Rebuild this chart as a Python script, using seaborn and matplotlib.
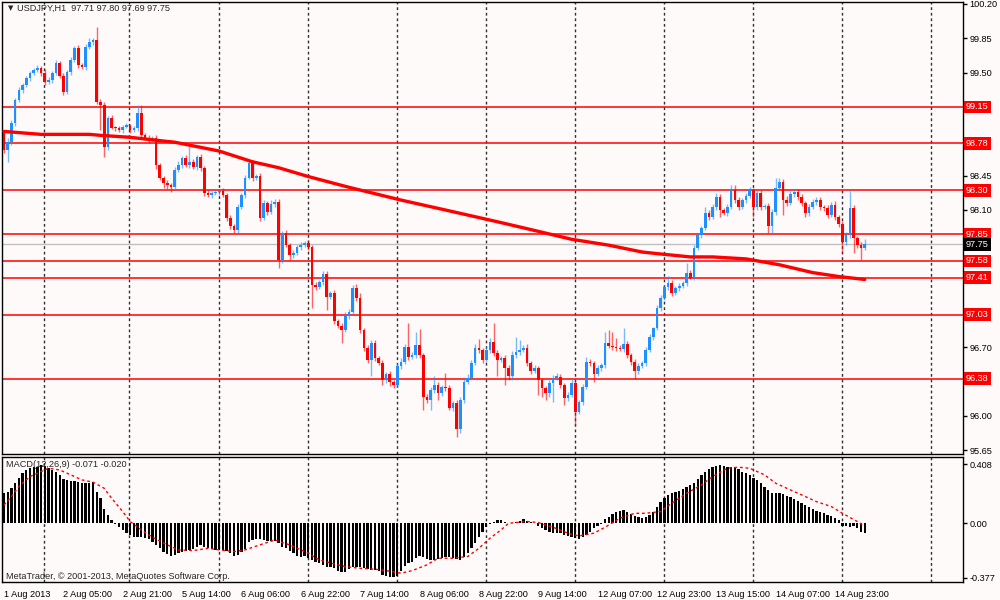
import matplotlib
matplotlib.use("Agg")
import matplotlib.pyplot as plt
import numpy as np
import seaborn as sns

# ---------------- DATA ----------------
title_text = "USDJPY,H1  97.71 97.80 97.69 97.75"
macd_text = "MACD(12,26,9) -0.071 -0.020"
copyright_text = "MetaTrader, \u00a9 2001-2013, MetaQuotes Software Corp."

first_open = 98.88
closes = [
    98.71, 98.79, 98.99, 99.22, 99.32, 99.37, 99.44, 99.50, 99.53, 99.55,
    99.50, 99.40, 99.42, 99.50, 99.60, 99.47, 99.30, 99.51, 99.63, 99.75,
    99.58, 99.56, 99.76, 99.81, 99.83, 99.20, 99.17, 98.74, 99.04, 98.94,
    98.93, 98.91, 98.95, 98.96, 98.91, 98.93, 99.09, 98.86, 98.83, 98.81,
    98.83, 98.56, 98.43, 98.37, 98.35, 98.33, 98.51, 98.56, 98.63, 98.56,
    98.59, 98.54, 98.64, 98.53, 98.27, 98.25, 98.27, 98.28, 98.29, 98.25,
    98.02, 97.94, 97.89, 98.13, 98.25, 98.43, 98.58, 98.42, 98.45, 98.02,
    98.17, 98.08, 98.16, 98.18, 97.59, 97.86, 97.74, 97.64, 97.66, 97.72,
    97.74, 97.76, 97.72, 97.33, 97.31, 97.36, 97.45, 97.21, 97.25, 96.97,
    96.92, 96.87, 97.02, 97.06, 97.30, 97.20, 96.87, 96.69, 96.57, 96.74,
    96.59, 96.54, 96.36, 96.43, 96.34, 96.31, 96.51, 96.55, 96.70, 96.60,
    96.62, 96.72, 96.62, 96.19, 96.16, 96.26, 96.31, 96.23, 96.29, 96.28,
    96.08, 96.13, 95.87, 96.16, 96.34, 96.39, 96.54, 96.69, 96.67, 96.57,
    96.67, 96.75, 96.64, 96.57, 96.59, 96.49, 96.41, 96.62, 96.65, 96.67,
    96.69, 96.54, 96.46, 96.49, 96.36, 96.28, 96.23, 96.33, 96.39, 96.40,
    96.31, 96.18, 96.21, 96.33, 96.04, 96.14, 96.29, 96.55, 96.54, 96.43,
    96.49, 96.52, 96.74, 96.71, 96.70, 96.69, 96.68, 96.73, 96.62, 96.55,
    96.46, 96.51, 96.54, 96.67, 96.80, 96.89, 97.10, 97.20, 97.31, 97.35,
    97.25, 97.30, 97.32, 97.35, 97.46, 97.41, 97.71, 97.84, 97.91, 98.07,
    98.03, 98.13, 98.23, 98.10, 98.07, 98.13, 98.30, 98.20, 98.13, 98.20,
    98.24, 98.30, 98.13, 98.27, 98.13, 98.14, 97.94, 98.08, 98.32, 98.38,
    98.20, 98.17, 98.26, 98.28, 98.23, 98.17, 98.07, 98.13, 98.18, 98.20,
    98.13, 98.12, 98.05, 98.15, 98.03, 97.96, 97.77, 97.84, 98.12, 97.81,
    97.74, 97.71, 97.75,
]
# upper / lower shadow lengths in pips (0.01)
wick_hi = [
    3, 4, 3, 2, 3, 2, 3, 2, 2, 3,
    2, 4, 3, 2, 3, 2, 3, 2, 3, 2,
    3, 2, 3, 4, 2, 13, 3, 3, 2, 3,
    2, 3, 2, 3, 2, 3, 8, 8, 2, 3,
    2, 3, 2, 2, 3, 2, 3, 4, 2, 3,
    19, 3, 2, 3, 2, 3, 2, 3, 2, 3,
    2, 3, 2, 3, 2, 3, 4, 3, 2, 3,
    3, 2, 4, 3, 3, 2, 3, 2, 3, 2,
    3, 2, 3, 2, 3, 2, 3, 3, 2, 3,
    2, 3, 4, 3, 3, 4, 5, 2, 3, 3,
    3, 2, 3, 2, 3, 2, 3, 4, 3, 25,
    3, 13, 16, 2, 3, 3, 10, 3, 2, 15,
    3, 2, 3, 3, 3, 4, 3, 4, 9, 2,
    3, 4, 20, 3, 2, 3, 3, 4, 15, 10,
    3, 4, 2, 3, 2, 3, 2, 3, 3, 4,
    3, 2, 3, 4, 3, 2, 3, 5, 3, 2,
    3, 2, 11, 13, 14, 9, 3, 17, 3, 2,
    3, 3, 2, 3, 3, 2, 3, 3, 2, 8,
    3, 2, 3, 2, 10, 3, 3, 2, 3, 6,
    3, 3, 4, 3, 2, 3, 5, 5, 3, 2,
    3, 3, 2, 4, 3, 2, 3, 3, 11, 5,
    3, 4, 3, 3, 3, 3, 2, 3, 3, 3,
    3, 2, 3, 3, 4, 2, 3, 3, 18, 3,
    2, 3, 5,
]
wick_lo = [
    3, 12, 3, 3, 2, 3, 2, 3, 2, 2,
    3, 3, 2, 3, 2, 3, 3, 2, 3, 2,
    3, 2, 3, 2, 3, 2, 26, 10, 3, 2,
    3, 2, 3, 2, 3, 2, 3, 3, 2, 3,
    2, 4, 3, 5, 4, 5, 3, 2, 3, 2,
    3, 2, 3, 3, 3, 2, 3, 2, 3, 2,
    3, 4, 3, 3, 2, 3, 2, 3, 2, 3,
    2, 3, 2, 3, 8, 3, 2, 5, 3, 2,
    3, 2, 3, 23, 3, 2, 3, 13, 2, 3,
    3, 13, 2, 3, 2, 3, 3, 3, 3, 16,
    3, 2, 5, 3, 4, 3, 2, 3, 2, 3,
    2, 3, 3, 13, 3, 10, 3, 7, 3, 3,
    2, 3, 9, 5, 3, 2, 3, 2, 3, 3,
    2, 3, 3, 16, 2, 18, 5, 5, 3, 3,
    2, 3, 3, 2, 15, 9, 7, 4, 19, 3,
    3, 7, 3, 2, 14, 2, 3, 2, 3, 9,
    2, 3, 3, 2, 3, 3, 2, 3, 3, 3,
    8, 3, 2, 3, 2, 3, 2, 3, 2, 3,
    3, 2, 3, 2, 3, 2, 3, 2, 3, 2,
    3, 2, 3, 7, 2, 3, 2, 3, 3, 2,
    3, 2, 10, 3, 3, 2, 8, 8, 3, 2,
    15, 3, 2, 3, 3, 3, 4, 3, 2, 3,
    3, 3, 3, 2, 3, 3, 11, 3, 3, 15,
    3, 12, 2,
]

ma_bar = [0, 10, 23, 26, 34, 41, 46, 50, 58, 67, 74, 82, 93, 107, 120, 134,
          143, 153, 163, 172, 177, 185, 191, 200, 209, 218, 225, 232]
ma_val = [98.90, 98.87, 98.87, 98.86, 98.84, 98.81, 98.79, 98.76, 98.70, 98.59,
          98.53, 98.44, 98.33, 98.20, 98.09, 97.97, 97.89, 97.80, 97.74, 97.67,
          97.65, 97.62, 97.62, 97.60, 97.54, 97.46, 97.42, 97.39]

macd_hist = [
    0.208, 0.220, 0.243, 0.278, 0.313, 0.347, 0.370, 0.382, 0.394, 0.394,
    0.405, 0.398, 0.382, 0.370, 0.359, 0.336, 0.306, 0.301, 0.296, 0.296,
    0.289, 0.278, 0.278, 0.278, 0.285, 0.220, 0.174, 0.097, 0.058, 0.023,
    -0.005, -0.028, -0.046, -0.069, -0.081, -0.097, -0.093, -0.097, -0.104, -0.111,
    -0.127, -0.150, -0.174, -0.197, -0.213, -0.227, -0.220, -0.208, -0.197, -0.190,
    -0.185, -0.181, -0.162, -0.150, -0.162, -0.174, -0.181, -0.185, -0.185, -0.185,
    -0.190, -0.208, -0.227, -0.220, -0.197, -0.181, -0.127, -0.116, -0.111, -0.111,
    -0.116, -0.120, -0.120, -0.120, -0.139, -0.162, -0.174, -0.190, -0.208, -0.227,
    -0.231, -0.227, -0.243, -0.255, -0.266, -0.278, -0.289, -0.301, -0.306, -0.313,
    -0.329, -0.336, -0.336, -0.319, -0.306, -0.301, -0.306, -0.313, -0.319, -0.324,
    -0.324, -0.329, -0.359, -0.366, -0.370, -0.375, -0.366, -0.329, -0.296, -0.278,
    -0.266, -0.243, -0.227, -0.236, -0.250, -0.255, -0.255, -0.250, -0.243, -0.236,
    -0.236, -0.243, -0.250, -0.255, -0.236, -0.208, -0.174, -0.139, -0.093, -0.058,
    -0.028, -0.002, 0.012, 0.023, 0.023, 0.012, 0.001, 0.005, 0.012, 0.019,
    0.028, 0.019, 0.012, 0.005, -0.019, -0.035, -0.046, -0.058, -0.065, -0.065,
    -0.069, -0.081, -0.088, -0.093, -0.104, -0.111, -0.097, -0.081, -0.058, -0.035,
    -0.019, -0.005, 0.028, 0.046, 0.065, 0.081, 0.088, 0.093, 0.081, 0.065,
    0.051, 0.046, 0.039, 0.046, 0.058, 0.081, 0.116, 0.150, 0.174, 0.197,
    0.213, 0.220, 0.227, 0.236, 0.250, 0.266, 0.278, 0.306, 0.336, 0.359,
    0.377, 0.389, 0.398, 0.403, 0.398, 0.389, 0.389, 0.389, 0.375, 0.359,
    0.347, 0.336, 0.313, 0.301, 0.278, 0.255, 0.231, 0.213, 0.213, 0.213,
    0.204, 0.190, 0.181, 0.167, 0.157, 0.144, 0.127, 0.111, 0.097, 0.088,
    0.081, 0.069, 0.058, 0.051, 0.035, 0.023, -0.019, -0.019, -0.028, -0.019,
    -0.035, -0.058, -0.071,
]

sig_bar = [0, 2, 4, 7, 10, 12, 15, 18, 21, 24, 27, 29, 32, 34, 37, 40, 44, 47,
           51, 55, 58, 62, 65, 69, 73, 77, 82, 85, 89, 92, 96, 100, 103, 107,
           110, 114, 117, 121, 125, 128, 131, 134, 136, 141, 144, 148, 152, 155,
           159, 162, 166, 170, 173, 177, 180, 184, 188, 191, 195, 198, 201, 205,
           208, 212, 215, 219, 223, 226, 230, 232]
sig_val = [0.127, 0.185, 0.255, 0.324, 0.359, 0.382, 0.370, 0.336, 0.301, 0.285,
           0.243, 0.174, 0.081, 0.012, -0.046, -0.097, -0.150, -0.185, -0.190,
           -0.174, -0.185, -0.197, -0.185, -0.150, -0.116, -0.150, -0.208, -0.255,
           -0.282, -0.301, -0.313, -0.319, -0.329, -0.347, -0.329, -0.289, -0.243,
           -0.243, -0.231, -0.174, -0.104, -0.046, 0.000, 0.012, 0.005, -0.028,
           -0.069, -0.088, -0.069, -0.028, 0.035, 0.069, 0.069, 0.081, 0.139,
           0.208, 0.266, 0.324, 0.382, 0.389, 0.382, 0.336, 0.278, 0.231, 0.197,
           0.150, 0.116, 0.069, 0.012, -0.020]

level_prices = [99.15, 98.78, 98.30, 97.85, 97.58, 97.41, 97.03, 96.38]
bid_price = 97.75
price_ticks = [100.20, 99.85, 99.50, 99.15, 98.80, 98.45, 98.10, 97.75,
               97.40, 97.05, 96.70, 96.35, 96.00, 95.65]
macd_ticks = [0.408, 0.0, -0.377]
macd_tick_labels = ["0.408", "0.00", "-0.377"]
x_tick_bars = [0, 16, 32, 48, 64, 80, 96, 112, 128, 144, 160, 176, 192, 208, 224]
x_tick_labels = ["1 Aug 2013", "2 Aug 05:00", "2 Aug 21:00", "5 Aug 14:00",
                 "6 Aug 06:00", "6 Aug 22:00", "7 Aug 14:00", "8 Aug 06:00",
                 "8 Aug 22:00", "9 Aug 14:00", "12 Aug 07:00", "12 Aug 23:00",
                 "13 Aug 15:00", "14 Aug 07:00", "14 Aug 23:00"]
grid_bars = [10.8, 33.8, 57.9, 82.0, 106.0, 130.0, 154.0, 178.0, 202.0, 226.0, 250.0]

# ---------------- STYLE ----------------
sns.set_style("white")
plt.rcParams["font.family"] = ["Liberation Sans", "DejaVu Sans"]
BG = "#fffafa"
BLUE = "#1e90ff"
RED = "#ff0000"
FS = 6.6

fig = plt.figure(figsize=(10, 6), dpi=100, facecolor=BG)
ax1 = fig.add_axes([0.002, 1 - 454 / 600, 0.961, 452 / 600])
ax2 = fig.add_axes([0.002, 0.03, 0.961, 125 / 600])
XL = (-0.54, 258.5)

for ax in (ax1, ax2):
    ax.set_facecolor(BG)
    for s in ax.spines.values():
        s.set_color("black")
        s.set_linewidth(1)
    for gx in grid_bars:
        ax.axvline(gx, color="#303030", lw=1, linestyle=(0, (2, 2)), zorder=1)

# ---------------- PRICE PANEL ----------------
n = len(closes)
bars = np.arange(n)
c = np.array(closes)
o = np.array([first_open] + closes[:-1])
hi = np.maximum(o, c) + np.array(wick_hi) / 100.0
lo = np.minimum(o, c) - np.array(wick_lo) / 100.0
up = c >= o
cols = np.where(up, BLUE, RED)
bottom = np.minimum(o, c)
height = np.maximum(np.abs(c - o), 0.012)

for lv in level_prices:
    ax1.axhline(lv, color=RED, lw=1.1, zorder=2)
ax1.axhline(bid_price, color="#c0c0c0", lw=1, zorder=2)

ax1.vlines(bars, lo, hi, colors=cols, lw=1, alpha=0.6, zorder=3)
ax1.bar(bars, height, bottom=bottom, width=0.72, color=cols, lw=0, zorder=4)

sns.lineplot(x=ma_bar, y=ma_val, ax=ax1, color=RED, lw=2.4, zorder=5,
             sort=False, estimator=None)

ax1.set_xlim(*XL)
ax1.set_ylim(95.61, 100.22)
ax1.set_xticks([])
ax1.set_xlabel("")
ax1.set_ylabel("")
ax1.yaxis.tick_right()
ax1.set_yticks(price_ticks)
# tick labels hidden behind the level / bid price boxes are not shown
covered = level_prices + [bid_price]
tick_text = []
for p in price_ticks:
    if min(abs(p - q) for q in covered) < 0.06:
        tick_text.append("")
    else:
        tick_text.append(f"{p:.2f}")
ax1.set_yticklabels(tick_text)
ax1.tick_params(axis="y", direction="out", length=3, width=1, pad=1.5,
                labelsize=FS, colors="black")

ytr = ax1.get_yaxis_transform()
for lv in level_prices:
    ax1.annotate(f"{lv:.2f}", xy=(1, lv), xycoords=ytr, xytext=(2.2, 0),
                 textcoords="offset points", ha="left", va="center",
                 fontsize=FS, color="white", annotation_clip=False, zorder=10,
                 bbox=dict(boxstyle="square,pad=0.2", fc=RED, ec="none"))
ax1.annotate(f"{bid_price:.2f}", xy=(1, bid_price), xycoords=ytr, xytext=(2.2, 0),
             textcoords="offset points", ha="left", va="center",
             fontsize=FS, color="white", annotation_clip=False, zorder=11,
             bbox=dict(boxstyle="square,pad=0.2", fc="black", ec="none"))

# ---------------- MACD PANEL ----------------
sns.barplot(x=bars, y=np.array(macd_hist), native_scale=True, orient="x",
            color="black", width=0.62, saturation=1, errorbar=None,
            ax=ax2, zorder=3, linewidth=0)
sns.lineplot(x=sig_bar, y=sig_val, ax=ax2, color=RED, lw=1,
             linestyle=(0, (2, 2)), zorder=5, sort=False, estimator=None)

ax2.set_xlim(*XL)
ax2.set_ylim(-0.408, 0.460)
ax2.set_xlabel("")
ax2.set_ylabel("")
ax2.yaxis.tick_right()
ax2.set_yticks(macd_ticks)
ax2.set_yticklabels(macd_tick_labels)
ax2.tick_params(axis="y", direction="out", length=3, width=1, pad=1.5,
                labelsize=FS, colors="black")
ax2.set_xticks(x_tick_bars)
ax2.set_xticklabels(x_tick_labels)
ax2.tick_params(axis="x", direction="out", length=4, width=1, pad=1.5,
                labelsize=FS, colors="black")
for lab in ax2.get_xticklabels():
    lab.set_ha("left")

# ---------------- TEXTS ----------------
fig.text(8 / 1000, 1 - 5 / 600, "\u25bc", fontsize=5, va="top", ha="left",
         family="DejaVu Sans")
fig.text(17 / 1000, 1 - 4 / 600, title_text, fontsize=FS, va="top", ha="left")
fig.text(6 / 1000, 1 - 460 / 600, macd_text, fontsize=FS, va="top", ha="left")
fig.text(6 / 1000, 1 - 581 / 600, copyright_text, fontsize=FS, va="bottom",
         ha="left")

fig.savefig("out.png", dpi=100, facecolor=BG)
